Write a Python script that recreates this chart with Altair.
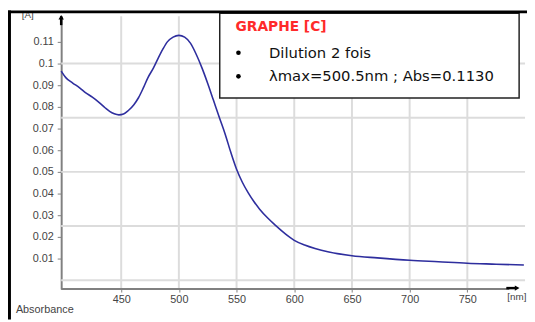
import altair as alt
import pandas as pd

# ---- data ----
wavelength = [398, 402, 408, 414, 419, 425, 431, 436, 440, 444, 448, 452, 456, 461,
              465, 469, 473, 478, 482, 486, 490, 495, 500, 505, 510, 515, 520, 525,
              530, 535, 540, 545, 550, 555, 560, 565, 570, 577, 584, 592, 600, 609,
              618, 630, 650, 672, 700, 725, 750, 775, 799]
absorbance = [0.0965, 0.0935, 0.0910, 0.0888, 0.0866, 0.0845, 0.0820, 0.0796, 0.0779,
              0.0768, 0.0763, 0.0767, 0.0782, 0.0810, 0.0842, 0.0885, 0.0933, 0.0980,
              0.1024, 0.1065, 0.1100, 0.1122, 0.1130, 0.1122, 0.1094, 0.1043, 0.0980,
              0.0908, 0.0830, 0.0752, 0.0676, 0.0590, 0.0512, 0.0452, 0.0404, 0.0363,
              0.0328, 0.0287, 0.0252, 0.0215, 0.0184, 0.0162, 0.0146, 0.0130, 0.0113,
              0.0103, 0.0092, 0.0085, 0.0078, 0.0074, 0.0070]

y_tick_values = [0.01, 0.02, 0.03, 0.04, 0.05, 0.06, 0.07, 0.08, 0.09, 0.1, 0.11]
x_tick_values = [450, 500, 550, 600, 650, 700, 750]
h_grid_values = [0, 0.025, 0.05, 0.075, 0.1]
v_grid_values = [450, 500, 550, 600, 650, 700, 750]

legend_title = "GRAPHE [C]"
legend_line1 = "Dilution 2 fois"
legend_line2 = "λmax=500.5nm ; Abs=0.1130"
y_unit = "[A]"
x_unit = "[nm]"
y_name = "Absorbance"

W, H = 471, 277
xs = alt.Scale(domain=[398, 800], nice=False, zero=False)
ys = alt.Scale(domain=[-0.0041, 0.1218], nice=False, zero=False)

GRID = "#dcdcdc"
AX = "#808080"
LBL = "#444444"
FONT = "Liberation Sans"
one = pd.DataFrame({"k": [0]})

x_axis = alt.Axis(
    values=x_tick_values, format="d", title=None, grid=False, domain=False,
    tickColor=AX, tickSize=3, tickWidth=1, labelColor=LBL, labelFont=FONT,
    labelFontSize=11, labelPadding=2, labelOverlap=False)
y_axis = alt.Axis(
    values=y_tick_values, format=".2~f", title=None, grid=False,
    domainColor=AX, domainWidth=2, tickColor=AX, tickSize=4, tickWidth=1,
    labelColor=LBL, labelFont=FONT, labelFontSize=11, labelPadding=4,
    labelOverlap=False)

df = pd.DataFrame({"wl": wavelength, "abs": absorbance})

vgrid = alt.Chart(pd.DataFrame({"wl": v_grid_values})).mark_rule(
    color=GRID, strokeWidth=2).encode(x=alt.X("wl:Q", scale=xs, axis=x_axis))
hgrid = alt.Chart(pd.DataFrame({"abs": h_grid_values})).mark_rule(
    color=GRID, strokeWidth=2).encode(y=alt.Y("abs:Q", scale=ys, axis=y_axis))

curve = alt.Chart(df).mark_line(color="#2e2e9e", strokeWidth=1.6,
                                interpolate="monotone").encode(
    x=alt.X("wl:Q", scale=xs, axis=x_axis),
    y=alt.Y("abs:Q", scale=ys, axis=y_axis),
)

# x axis line with arrow
xline = alt.Chart(one).mark_rule(color=AX, strokeWidth=2).encode(
    x=alt.value(0), x2=alt.value(455), y=alt.value(H))
xarrow_bar = alt.Chart(one).mark_rule(color="black", strokeWidth=2.5).encode(
    x=alt.value(452), x2=alt.value(462), y=alt.value(H - 1))
xarrow_head = alt.Chart(one).mark_point(shape="triangle-right", filled=True,
                                        color="black", size=30, opacity=1).encode(
    x=alt.value(463), y=alt.value(H - 1))
yarrow_bar = alt.Chart(one).mark_rule(color="black", strokeWidth=2.5).encode(
    x=alt.value(0), y=alt.value(0), y2=alt.value(9))
yarrow_head = alt.Chart(one).mark_point(shape="triangle-up", filled=True,
                                        color="black", size=30, opacity=1).encode(
    x=alt.value(0), y=alt.value(1))

# legend box
box = alt.Chart(one).mark_rect(fill="white", stroke="#222222", strokeWidth=1.5).encode(
    x=alt.value(161), x2=alt.value(465), y=alt.value(-3), y2=alt.value(83))
t_title = alt.Chart(pd.DataFrame({"t": [legend_title]})).mark_text(
    align="left", baseline="middle", font="DejaVu Sans", fontSize=14,
    fontWeight="bold", color="#ff2a2a").encode(
    x=alt.value(177), y=alt.value(11), text="t:N")
t_l1 = alt.Chart(pd.DataFrame({"t": [legend_line1]})).mark_text(
    align="left", baseline="middle", font="DejaVu Sans", fontSize=15,
    color="#111111").encode(x=alt.value(211), y=alt.value(37), text="t:N")
t_l2 = alt.Chart(pd.DataFrame({"t": [legend_line2]})).mark_text(
    align="left", baseline="middle", font="DejaVu Sans", fontSize=15,
    color="#111111").encode(x=alt.value(211), y=alt.value(61), text="t:N")
b1 = alt.Chart(one).mark_point(shape="circle", filled=True, color="black",
                               size=22, opacity=1).encode(x=alt.value(180), y=alt.value(37))
b2 = alt.Chart(one).mark_point(shape="circle", filled=True, color="black",
                               size=22, opacity=1).encode(x=alt.value(180), y=alt.value(61))

# unit / name labels
t_yunit = alt.Chart(pd.DataFrame({"t": [y_unit]})).mark_text(
    align="left", baseline="middle", font=FONT, fontSize=10, color=LBL).encode(
    x=alt.value(-40), y=alt.value(-1), text="t:N")
t_xunit = alt.Chart(pd.DataFrame({"t": [x_unit]})).mark_text(
    align="left", baseline="middle", font=FONT, fontSize=10, color=LBL).encode(
    x=alt.value(453), y=alt.value(285), text="t:N")
t_name = alt.Chart(pd.DataFrame({"t": [y_name]})).mark_text(
    align="left", baseline="middle", font=FONT, fontSize=11, color=LBL).encode(
    x=alt.value(-46), y=alt.value(298), text="t:N")

# outer frame (top and left)
frame_top = alt.Chart(one).mark_rule(color="black", strokeWidth=3).encode(
    x=alt.value(-54), x2=alt.value(473), y=alt.value(-4.5))
frame_left = alt.Chart(one).mark_rule(color="black", strokeWidth=3).encode(
    x=alt.value(-52.5), y=alt.value(-6), y2=alt.value(308))

chart = alt.layer(
    vgrid, hgrid, xline, curve, xarrow_bar, xarrow_head, yarrow_bar, yarrow_head,
    box, t_title, b1, b2, t_l1, t_l2, t_yunit, t_xunit, t_name, frame_top, frame_left
).properties(
    width=W, height=H,
    autosize=alt.AutoSizeParams(type="none"),
    padding={"left": 54, "top": 6, "right": 2, "bottom": 31},
    background="white",
).configure_view(stroke=None)

chart.save("out.html", embed_options={"renderer": "svg", "actions": False})
